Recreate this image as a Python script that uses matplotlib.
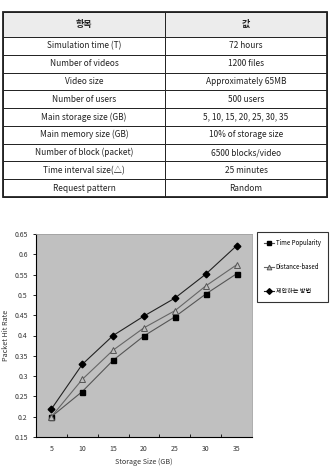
import matplotlib
matplotlib.use("Agg")
import matplotlib.pyplot as plt
import numpy as np

plt.rcParams['font.family'] = ['Noto Sans CJK KR', 'DejaVu Sans']

# table data
col_labels = ["항목", "값"]
row_items = ["Simulation time (T)", "Number of videos", "Video size", "Number of users",
             "Main storage size (GB)", "Main memory size (GB)", "Number of block (packet)",
             "Time interval size(\u25B3)", "Request pattern"]
row_values = ["72 hours", "1200 files", "Approximately 65MB", "500 users",
              "5, 10, 15, 20, 25, 30, 35", "10% of storage size", "6500 blocks/video",
              "25 minutes", "Random"]

# chart data
storage = ["5", "10", "15", "20", "25", "30", "35"]
time_pop = [0.20, 0.262, 0.339, 0.399, 0.446, 0.502, 0.552]
distance = [0.20, 0.292, 0.364, 0.419, 0.461, 0.522, 0.574]
proposed = [0.219, 0.329, 0.40, 0.448, 0.492, 0.551, 0.621]

W, H = 330, 466
fig = plt.figure(figsize=(W / 100, H / 100), dpi=100)

# ---- table ----
axt = fig.add_axes([3 / W, 1 - 197 / H, 324 / W, 185 / H])
axt.axis("off")
cells = [[a, b] for a, b in zip(row_items, row_values)]
tab = axt.table(cellText=cells, colLabels=col_labels, cellLoc="center", bbox=[0, 0, 1, 1])
tab.auto_set_font_size(False)
n = len(row_items)
hh = 25 / 185
rh = (1 - hh) / n
for (r, c), cell in tab.get_celld().items():
    cell.set_edgecolor("#222222")
    cell.set_linewidth(0.7)
    cell.set_width(0.5)
    cell.get_text().set_fontsize(6)
    cell.get_text().set_color("#222222")
    if r == 0:
        cell.set_height(hh)
        cell.set_facecolor("#ececec")
        cell.get_text().set_fontweight("bold")
        cell.get_text().set_fontsize(6.5)
    else:
        cell.set_height(rh)
        cell.set_facecolor("white")
axt.add_patch(plt.Rectangle((0, 0), 1, 1, transform=axt.transAxes, fill=False,
                            edgecolor="#222222", linewidth=1.3, zorder=10, clip_on=False))

# ---- chart ----
ax = fig.add_axes([36 / W, 1 - 437 / H, 216 / W, 203 / H])
ax.set_facecolor("#c0c0c0")
x = np.arange(len(storage))
ax.plot(x, time_pop, color="#555555", lw=0.8, marker="s", ms=3.6,
        mfc="black", mec="black", label="Time Popularity")
ax.plot(x, distance, color="#666666", lw=0.8, marker="^", ms=4,
        mfc="#bdbdbd", mec="#555555", mew=0.7, label="Distance-based")
ax.plot(x, proposed, color="#222222", lw=0.8, marker="D", ms=3.4,
        mfc="black", mec="black", label="제안하는 방법")

ax.set_xlim(-0.5, len(storage) - 0.5)
ax.set_ylim(0.15, 0.65)
ax.set_xticks(x)
ax.set_xticklabels(storage)
ax.set_xticks(np.arange(0.5, len(storage) - 1, 1), minor=True)
ax.tick_params(axis="x", which="major", length=0, labelsize=5, pad=6, colors="#333333")
ax.tick_params(axis="x", which="minor", length=2.5, direction="in", width=0.6)
yt = np.arange(0.15, 0.651, 0.05)
ax.set_yticks(yt)
ax.set_yticklabels([("%.2f" % v).rstrip("0") for v in yt])
ax.tick_params(axis="y", length=2.5, width=0.6, labelsize=5, colors="#333333")
ax.tick_params(axis="y", color="black")
for s in ["left", "bottom"]:
    ax.spines[s].set_color("black")
    ax.spines[s].set_linewidth(0.8)
for s in ["top", "right"]:
    ax.spines[s].set_color("#a0a0a0")
    ax.spines[s].set_linewidth(0.6)
ax.set_xlabel("Storage Size (GB)", fontsize=5.2, labelpad=3, color="#333333")
ax.set_ylabel("Packet Hit Rate", fontsize=5.2, labelpad=3, color="#333333")

leg = fig.legend(loc="upper left", bbox_to_anchor=(257 / W, 1 - 232 / H), fontsize=4.4,
                 frameon=True, fancybox=False, edgecolor="black", borderpad=1.2,
                 labelspacing=2.6, handlelength=1.6, handletextpad=0.25, borderaxespad=0,
                 markerscale=0.85)
leg.get_frame().set_linewidth(0.8)

fig.savefig("out.png", dpi=100)
